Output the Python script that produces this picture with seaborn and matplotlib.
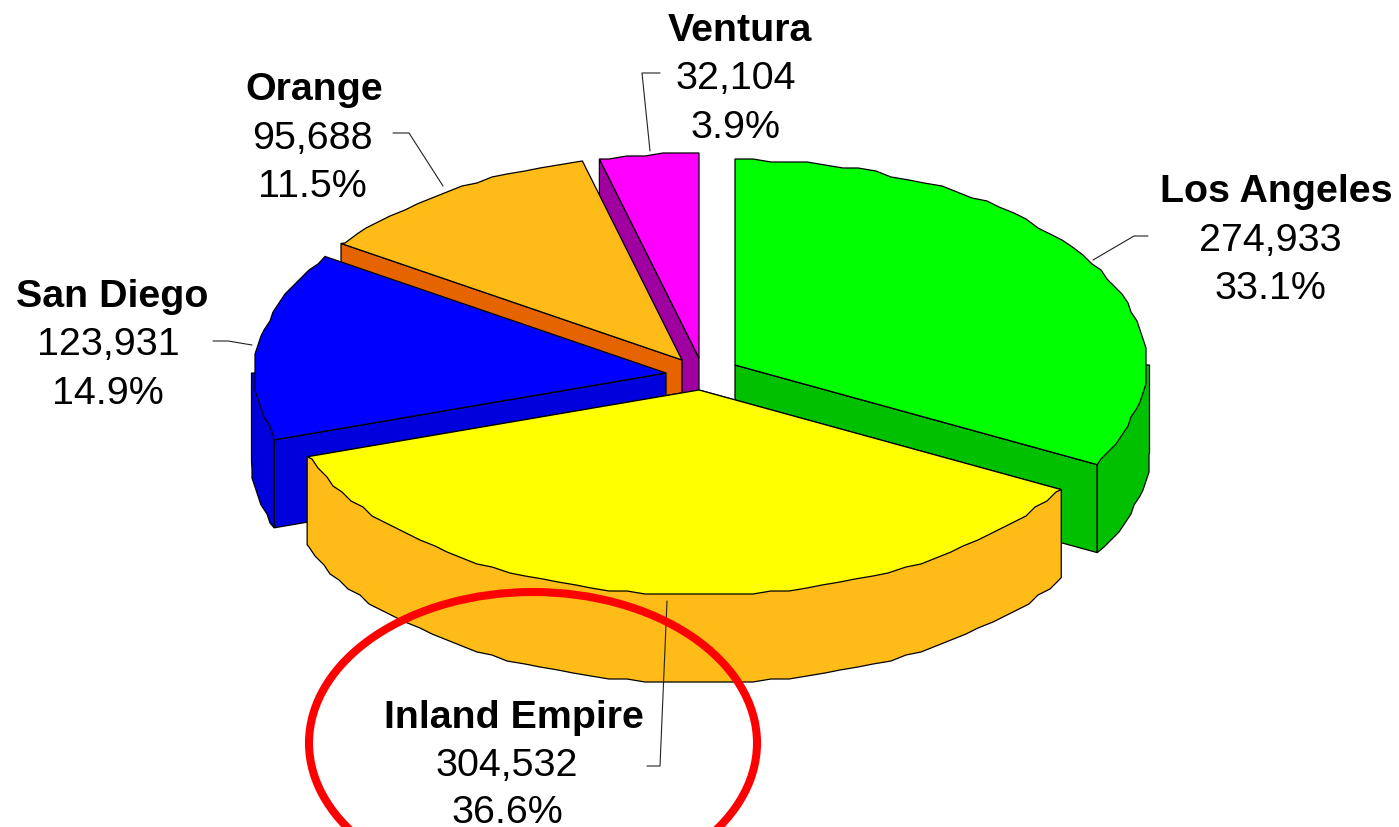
import numpy as np
import matplotlib
matplotlib.use("Agg")
import matplotlib.pyplot as plt
from matplotlib.patches import Ellipse
import seaborn as sns

# data, clockwise from 12 o'clock
regions = ["Los Angeles", "Inland Empire", "San Diego", "Orange", "Ventura"]
counts = [274933, 304532, 123931, 95688, 32104]

# colours
top_colors = ["#00ff00", "#ffff00", "#0000ff", "#ffbb18", "#ff00ff"]
side_colors = ["#00c000", "#ffbb18", "#0000dc", "#e66400", "#a000a0"]

sns.set_theme(style="white")
plt.rcParams["font.family"] = ["Liberation Sans", "DejaVu Sans"]

# exploded slice centres, in pixels
apex = [(735, 365), (699, 390), (666, 373), (682, 360), (699, 358)]
rx, ry = 411.5, 205
wall_rx = 414.5
depth = 88
grid = 3
step = 2.5


def arc(cx, cy, a0, a1, r=rx):
    t = np.radians(np.arange(np.ceil(a0 / step) * step, a1, step))
    x = cx + r * np.sin(t)
    y = cy - ry * np.cos(t)
    # the old renderer steps its outlines, so snap to a coarse grid
    x = np.round(x / grid) * grid
    y = np.round(y / grid) * grid
    pts = [(cx + wall_rx * np.sin(np.radians(a0)), cy - ry * np.cos(np.radians(a0)))]
    pts += list(zip(x, y))
    pts += [(cx + wall_rx * np.sin(np.radians(a1)), cy - ry * np.cos(np.radians(a1)))]
    return pts


def radial_face(ax, c, a, color):
    ex = c[0] + wall_rx * np.sin(np.radians(a))
    ey = c[1] - ry * np.cos(np.radians(a))
    pts = [c, (ex, ey), (ex, ey + depth), (c[0], c[1] + depth)]
    ax.fill(*zip(*pts), facecolor=color, edgecolor="black", linewidth=0.9)


def outer_wall(ax, c, a0, a1, color):
    # upper side runs through the centre, the top face hides it
    lower = [(x, y + depth) for x, y in arc(c[0], c[1], a0, a1, wall_rx)]
    upper = arc(c[0], c[1], a0, a1, wall_rx)
    pts = [c, upper[-1]] + lower[::-1] + [upper[0]]
    ax.fill(*zip(*pts), facecolor=color, edgecolor="black", linewidth=0.9)


fig = plt.figure(figsize=(13.99, 8.27), dpi=100)
ax = fig.add_axes([0, 0, 1, 1])
ax.set_xlim(0, 1399)
ax.set_ylim(827, 0)
ax.axis("off")

shares = np.array(counts) / np.sum(counts)
edges = np.concatenate([[0], np.cumsum(shares) * 360])

# back to front, Inland Empire is the nearest one
for i in [4, 3, 2, 0, 1]:
    a0, a1 = edges[i], edges[i + 1]
    c = apex[i]
    if regions[i] == "Los Angeles":
        radial_face(ax, c, a1, side_colors[i])
    elif regions[i] != "Inland Empire":
        radial_face(ax, c, a0, side_colors[i])
    w0, w1 = max(a0, 90), min(a1, 270)
    if w1 > w0:
        outer_wall(ax, c, w0, w1, side_colors[i])
    pts = [c] + arc(c[0], c[1], a0, a1)
    ax.fill(*zip(*pts), facecolor=top_colors[i], edgecolor="black", linewidth=0.9)

# leader lines
leaders = {
    "Los Angeles": [(1093, 260), (1134, 236), (1148, 236)],
    "Inland Empire": [(667, 601), (660, 766), (647, 766)],
    "San Diego": [(252, 345), (228, 341), (213, 341)],
    "Orange": [(443, 186), (409, 133), (393, 133)],
    "Ventura": [(650, 151), (642, 73), (660, 73)],
}
for name in regions:
    ax.plot(*zip(*leaders[name]), color="#222222", linewidth=0.8)

# labels: x of name, x of numbers, baselines
label_pos = {
    "Los Angeles": (1276, 1270, 202, 251, 299),
    "Inland Empire": (514, 507, 728, 776, 823),
    "San Diego": (112, 108, 307, 355, 404),
    "Orange": (314, 312, 100, 149, 197),
    "Ventura": (740, 736, 41, 89, 138),
}
for name, n, s in zip(regions, counts, shares):
    xb, xn, y0, y1, y2 = label_pos[name]
    ax.text(xb, y0, name, ha="center", va="baseline", fontsize=28.4, fontweight="bold", color="black")
    ax.text(xn, y1, f"{n:,}", ha="center", va="baseline", fontsize=28.4, color="black")
    ax.text(xn, y2, f"{s * 100:.1f}%", ha="center", va="baseline", fontsize=28.4, color="black")

# hand drawn highlight round the Inland Empire label
ax.add_patch(Ellipse((533, 743), 448, 302, fill=False, edgecolor="#ff0000", linewidth=5.8, zorder=5))

fig.savefig("out.png", dpi=100)
